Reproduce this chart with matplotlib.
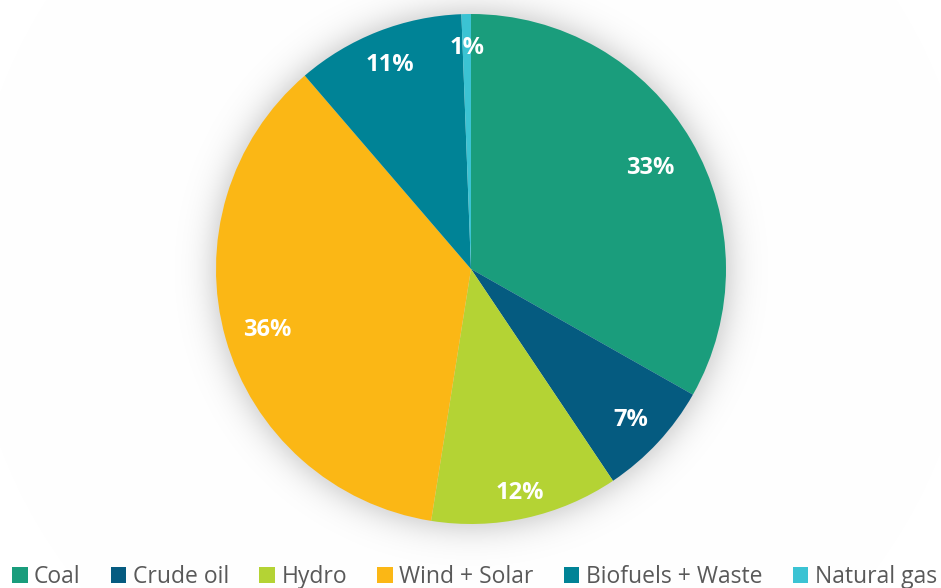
import numpy as np
import matplotlib
matplotlib.use("Agg")
import matplotlib.pyplot as plt
from matplotlib.patches import Patch

# Electricity generation mix (%)
categories = ["Coal", "Crude oil", "Hydro", "Wind + Solar", "Biofuels + Waste", "Natural gas"]
shares = [33.2, 7.4, 11.9, 36.2, 10.7, 0.6]
colors = ["#1A9D7C", "#055B80", "#B4D334", "#FBB715", "#008396", "#3BC3D3"]
# radial position of each percentage label (fraction of the radius)
label_dist = [0.812, 0.856, 0.888, 0.830, 0.873, 0.880]

W, H = 941, 588
fig = plt.figure(figsize=(W / 100, H / 100), dpi=100)
fig.patch.set_facecolor("white")

cx, cy, r = 471, 269, 255

# soft glow around the pie
sax = fig.add_axes([0, 0, 1, 1], zorder=-1)
sax.axis("off")
yy, xx = np.mgrid[0:H, 0:W]
d = np.sqrt((xx - cx) ** 2 + (yy - cy) ** 2) - r
shade = np.where(d < 0, 0.13, 0.13 * np.exp(-(np.clip(d, 0, None) / 16.0) ** 1.3))
img = np.dstack([1 - shade] * 3)
sax.imshow(img, extent=[0, W, H, 0], aspect="auto")
sax.set_xlim(0, W)
sax.set_ylim(H, 0)

ax = fig.add_axes([(cx - r) / W, (H - cy - r) / H, 2 * r / W, 2 * r / H])
wedges, texts, autotexts = ax.pie(
    shares,
    colors=colors,
    startangle=90,
    counterclock=False,
    radius=1,
    autopct=lambda p: f"{p:.0f}%",
    pctdistance=0.85,
    wedgeprops=dict(linewidth=0),
    textprops=dict(color="white", fontsize=17, fontweight="bold", family="Open Sans"),
)
for w, t, dist in zip(wedges, autotexts, label_dist):
    ang = np.deg2rad((w.theta1 + w.theta2) / 2)
    t.set_position((dist * np.cos(ang), dist * np.sin(ang)))
    t.set_va("center_baseline")
ax.set_xlim(-1, 1)
ax.set_ylim(-1, 1)
ax.set_aspect("equal")
ax.axis("off")

handles = [Patch(facecolor=c, edgecolor="none") for c in colors]
fig.legend(
    handles, categories,
    loc="center left", bbox_to_anchor=(12 / W, (H - 577) / H),
    ncol=6, frameon=False, borderpad=0, borderaxespad=0,
    handlelength=0.68, handleheight=0.7, handletextpad=0.28,
    columnspacing=1.32,
    prop=dict(family="Open Sans", size=16.5),
    labelcolor="#595959",
)

fig.savefig("out.png", dpi=100, facecolor="white")
